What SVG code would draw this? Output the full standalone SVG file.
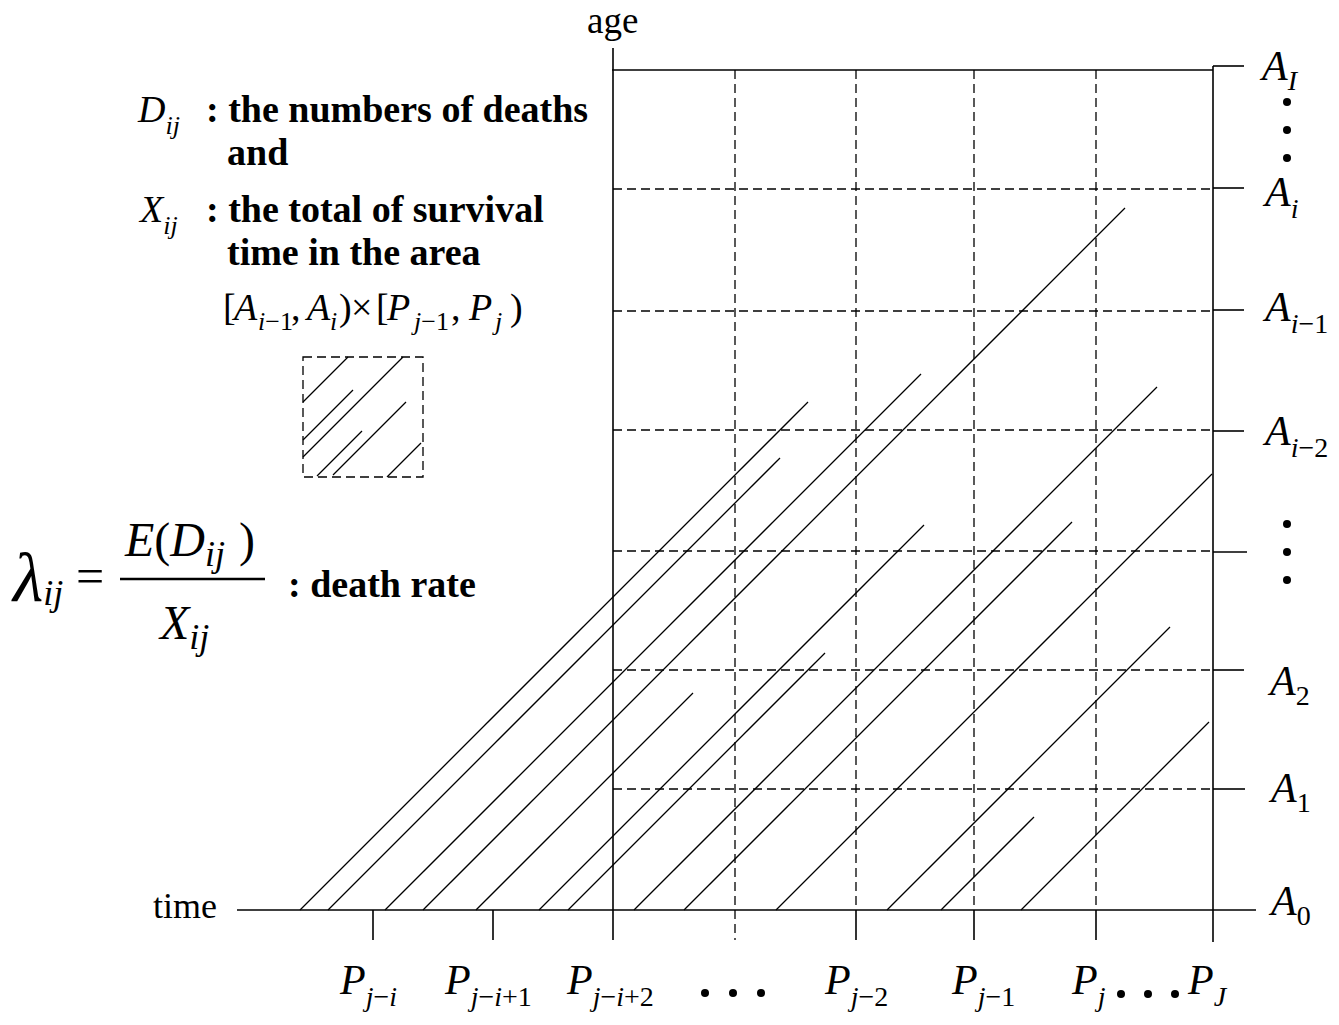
<svg xmlns="http://www.w3.org/2000/svg" width="1339" height="1025" viewBox="0 0 1339 1025">
<style>
.ax{stroke:#000;stroke-width:1.6;fill:none}
.gd{stroke:#000;stroke-width:1.3;stroke-dasharray:9 5;fill:none}
.dg{stroke:#000;stroke-width:1.3;fill:none}
.tk{stroke:#000;stroke-width:1.6}
.t{font-family:"Liberation Serif","Times New Roman",serif;fill:#000}
.b{font-weight:bold;font-size:38px}
.it{font-style:italic}
.m{font-size:42px}
.s{font-size:28px}
</style>
<rect width="1339" height="1025" fill="#fff"/>
<g id="grid">
<line class="gd" x1="613" y1="189" x2="1213" y2="189"/>
<line class="gd" x1="613" y1="311" x2="1213" y2="311"/>
<line class="gd" x1="613" y1="430" x2="1213" y2="430"/>
<line class="gd" x1="613" y1="551" x2="1213" y2="551"/>
<line class="gd" x1="613" y1="670" x2="1213" y2="670"/>
<line class="gd" x1="613" y1="789" x2="1213" y2="789"/>
<line class="gd" x1="735" y1="70" x2="735" y2="940"/>
<line class="gd" x1="856" y1="70" x2="856" y2="910"/>
<line class="gd" x1="974" y1="70" x2="974" y2="910"/>
<line class="gd" x1="1096" y1="70" x2="1096" y2="910"/>
</g>
<g id="axes">
<line class="ax" x1="613" y1="48" x2="613" y2="940"/>
<line class="ax" x1="612" y1="70" x2="1213" y2="70"/>
<line class="ax" x1="1213" y1="66" x2="1213" y2="942"/>
<line class="ax" x1="237" y1="910" x2="1256" y2="910"/>
<line class="tk" x1="373" y1="910" x2="373" y2="940"/>
<line class="tk" x1="493" y1="910" x2="493" y2="940"/>
<line class="tk" x1="856" y1="910" x2="856" y2="940"/>
<line class="tk" x1="974" y1="910" x2="974" y2="940"/>
<line class="tk" x1="1096" y1="910" x2="1096" y2="940"/>
<line class="tk" x1="1213" y1="66" x2="1244" y2="66"/>
<line class="tk" x1="1213" y1="188" x2="1244" y2="188" stroke-width="3"/>
<line class="tk" x1="1213" y1="310" x2="1244" y2="310"/>
<line class="tk" x1="1213" y1="431" x2="1244" y2="431"/>
<line class="tk" x1="1213" y1="552" x2="1247" y2="552"/>
<line class="tk" x1="1213" y1="670" x2="1244" y2="670"/>
<line class="tk" x1="1213" y1="789" x2="1245" y2="789"/>
</g>
<g id="connectors">
<line class="dg" x1="300" y1="910" x2="808" y2="402"/>
<line class="dg" x1="328" y1="910" x2="780" y2="458"/>
<line class="dg" x1="385" y1="910" x2="921" y2="374"/>
<line class="dg" x1="423" y1="910" x2="1125" y2="208"/>
<line class="dg" x1="476" y1="910" x2="693" y2="693"/>
<line class="dg" x1="539" y1="910" x2="924" y2="525"/>
<line class="dg" x1="568" y1="910" x2="825" y2="653"/>
<line class="dg" x1="634" y1="910" x2="1157" y2="387"/>
<line class="dg" x1="684" y1="910" x2="1072" y2="522"/>
<line class="dg" x1="776" y1="910" x2="1212" y2="474"/>
<line class="dg" x1="887" y1="910" x2="1170" y2="627"/>
<line class="dg" x1="941" y1="910" x2="1034" y2="817"/>
<line class="dg" x1="1021" y1="910" x2="1209" y2="722"/>
</g>
<g id="sample-area">
<rect class="gd" x="303" y="357" width="120" height="120"/>
<line class="dg" x1="348" y1="357" x2="303" y2="402"/>
<line class="dg" x1="353" y1="390" x2="303" y2="440"/>
<line class="dg" x1="403" y1="357" x2="303" y2="457"/>
<line class="dg" x1="362" y1="431" x2="317" y2="476"/>
<line class="dg" x1="406" y1="402" x2="333" y2="475"/>
<line class="dg" x1="421" y1="443" x2="387" y2="477"/>
</g>
<g id="axis-titles">
<text class="t" x="587" y="33" font-size="37">age</text>
<text class="t" x="153" y="918" font-size="36">time</text>
</g>
<g id="age-labels">
<text class="t it m" x="1262" y="80">A<tspan class="s" dy="10">I</tspan></text>
<circle cx="1287" cy="102" r="4"/><circle cx="1287" cy="130" r="4"/><circle cx="1287" cy="158" r="4"/>
<text class="t it m" x="1265" y="206">A<tspan class="s" dy="12">i</tspan></text>
<text class="t m" x="1265" y="321"><tspan class="it">A</tspan><tspan class="s" dy="12"><tspan class="it">i</tspan>−1</tspan></text>
<text class="t m" x="1265" y="445"><tspan class="it">A</tspan><tspan class="s" dy="12"><tspan class="it">i</tspan>−2</tspan></text>
<circle cx="1287" cy="524" r="4"/><circle cx="1287" cy="552" r="4"/><circle cx="1287" cy="580" r="4"/>
<text class="t m" x="1270" y="695"><tspan class="it">A</tspan><tspan class="s" dy="10">2</tspan></text>
<text class="t m" x="1271" y="802"><tspan class="it">A</tspan><tspan class="s" dy="10">1</tspan></text>
<text class="t m" x="1271" y="915"><tspan class="it">A</tspan><tspan class="s" dy="10">0</tspan></text>
</g>
<g id="period-labels">
<text class="t m" x="340" y="994"><tspan class="it">P</tspan><tspan class="s it" dy="12">j</tspan><tspan class="s">−</tspan><tspan class="s it">i</tspan></text>
<text class="t m" x="445" y="994"><tspan class="it">P</tspan><tspan class="s it" dy="12">j</tspan><tspan class="s">−</tspan><tspan class="s it">i</tspan><tspan class="s">+1</tspan></text>
<text class="t m" x="567" y="994"><tspan class="it">P</tspan><tspan class="s it" dy="12">j</tspan><tspan class="s">−</tspan><tspan class="s it">i</tspan><tspan class="s">+2</tspan></text>
<circle cx="705" cy="993" r="4"/><circle cx="733" cy="993" r="4"/><circle cx="761" cy="993" r="4"/>
<text class="t m" x="825" y="994"><tspan class="it">P</tspan><tspan class="s it" dy="12">j</tspan><tspan class="s">−2</tspan></text>
<text class="t m" x="952" y="994"><tspan class="it">P</tspan><tspan class="s it" dy="12">j</tspan><tspan class="s">−1</tspan></text>
<text class="t m" x="1072" y="994"><tspan class="it">P</tspan><tspan class="s it" dy="12">j</tspan></text>
<circle cx="1121" cy="994" r="4"/><circle cx="1148" cy="994" r="4"/><circle cx="1175" cy="994" r="4"/>
<text class="t m" x="1188" y="994"><tspan class="it">P</tspan><tspan class="s it" dy="12">J</tspan></text>
</g>
<g id="legend">
<text class="t it" x="138" y="122" font-size="38">D<tspan font-size="26" dy="12">ij</tspan></text>
<text class="t b" x="206" y="122">: the numbers of deaths</text>
<text class="t b" x="227" y="165">and</text>
<text class="t it" x="140" y="222" font-size="38">X<tspan font-size="26" dy="12">ij</tspan></text>
<text class="t b" x="206" y="222">: the total of survival</text>
<text class="t b" x="227" y="265">time in the area</text>
<text class="t" font-size="38" y="320"><tspan x="223">[</tspan><tspan x="234" class="it">A</tspan><tspan x="258" font-size="26" dy="10"><tspan class="it">i</tspan>−1</tspan><tspan x="291" dy="-10">,</tspan><tspan x="307" class="it">A</tspan><tspan x="330" font-size="26" dy="10" class="it">i</tspan><tspan x="339" dy="-10">)</tspan><tspan x="351">×</tspan><tspan x="376">[</tspan><tspan x="387" class="it">P</tspan><tspan x="414" font-size="26" dy="10"><tspan class="it">j</tspan>−1</tspan><tspan x="451" dy="-10">,</tspan><tspan x="469" class="it">P</tspan><tspan x="495" font-size="26" dy="10" class="it">j</tspan><tspan x="510" dy="-10">)</tspan></text>
</g>
<g id="formula">
<text class="t it" x="13" y="601" font-size="70">λ<tspan font-size="36" dy="4">ij</tspan></text>
<text class="t" x="76" y="593" font-size="50">=</text>
<line x1="120" y1="579" x2="265" y2="579" stroke="#000" stroke-width="2.5"/>
<text class="t" x="125" y="556" font-size="48"><tspan class="it">E</tspan>(<tspan class="it">D</tspan><tspan class="it" font-size="36" dy="10">ij</tspan><tspan dy="-10" dx="14">)</tspan></text>
<text class="t it" x="160" y="639" font-size="48">X<tspan font-size="36" dy="10">ij</tspan></text>
<text class="t b" x="288" y="597">: death rate</text>
</g>
</svg>
